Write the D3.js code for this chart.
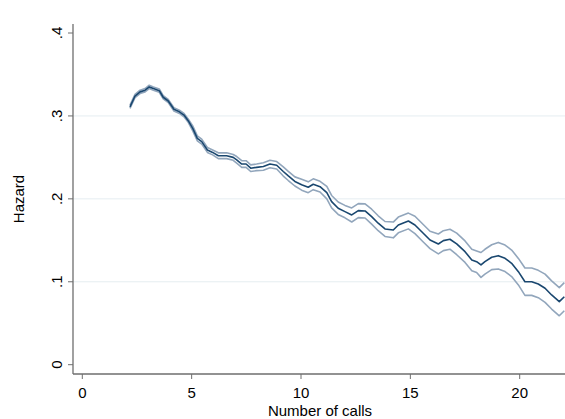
<!DOCTYPE html>
<html>
<head>
<meta charset="utf-8">
<script src="https://cdn.jsdelivr.net/npm/d3@7"></script>
<style>
  body { margin: 0; background: #fff; }
  text { font-family: "Liberation Sans", Arial, sans-serif; }
</style>
</head>
<body>
<svg id="main" width="565" height="419"></svg>
<script>
// values
const calls = [2.18, 2.41, 2.64, 2.87, 3.06, 3.25, 3.52, 3.70, 3.93, 4.19, 4.44, 4.65, 4.85,
    5.05, 5.26, 5.46, 5.72, 5.96, 6.22, 6.60, 6.9, 7.06, 7.29, 7.49, 7.70, 7.97, 8.28, 8.58,
    8.89, 9.19, 9.42, 9.72, 10.03, 10.33, 10.56, 10.87, 11.18, 11.4, 11.7, 12.01, 12.32, 12.62,
    12.93, 13.23, 13.53, 13.84, 14.22, 14.45, 14.91, 15.21, 15.59, 15.9, 16.28, 16.51, 16.81,
    17.12, 17.5, 17.81, 18.03, 18.23, 18.41, 18.72, 19.02, 19.33, 19.63, 19.94, 20.24, 20.55,
    20.85, 21.16, 21.46, 21.81, 22.04];
const hazard = [0.311, 0.324, 0.329, 0.331, 0.335, 0.333, 0.3305, 0.3225, 0.318, 0.308, 0.305,
    0.301, 0.294, 0.285, 0.273, 0.269, 0.259, 0.256, 0.252, 0.252, 0.250, 0.247, 0.242, 0.242,
    0.237, 0.238, 0.239, 0.242, 0.2405, 0.233, 0.2276, 0.221, 0.217, 0.214, 0.2176, 0.2147,
    0.2075, 0.1966, 0.1887, 0.1846, 0.1806, 0.1858, 0.1854, 0.1785, 0.1706, 0.1637, 0.1625,
    0.1685, 0.1733, 0.1685, 0.1585, 0.1504, 0.1456, 0.1496, 0.1513, 0.1456, 0.1363, 0.1263,
    0.1242, 0.1203, 0.1242, 0.1296, 0.1315, 0.1283, 0.1223, 0.1122, 0.1001, 0.1001, 0.0973,
    0.0922, 0.0841, 0.076, 0.082];
// half width of the confidence band at each point
const ciHalf = [0.002, 0.002, 0.002, 0.002, 0.002, 0.002, 0.002, 0.002, 0.002, 0.002, 0.002,
    0.002, 0.002, 0.003, 0.003, 0.003, 0.003, 0.003, 0.0035, 0.0035, 0.0035, 0.004, 0.004,
    0.004, 0.004, 0.004, 0.0045, 0.0045, 0.0045, 0.0055, 0.0055, 0.0055, 0.0065, 0.0065,
    0.0065, 0.0065, 0.0075, 0.0075, 0.0075, 0.0075, 0.0085, 0.0085, 0.0085, 0.009, 0.009,
    0.009, 0.0095, 0.0095, 0.0095, 0.0105, 0.0105, 0.0105, 0.012, 0.012, 0.012, 0.013, 0.013,
    0.013, 0.013, 0.015, 0.015, 0.015, 0.016, 0.016, 0.016, 0.016, 0.0165, 0.0165, 0.0165,
    0.017, 0.017, 0.017, 0.017];
const xTicks = [0, 5, 10, 15, 20];
const yTicks = [0, 0.1, 0.2, 0.3, 0.4];
const yTickLabels = ["0", ".1", ".2", ".3", ".4"];
const xTitle = "Number of calls";
const yTitle = "Hazard";

const size = {width: 565, height: 419, left: 73, right: 565, top: 24, bottom: 374};

const points = calls.map((c, i) => ({x: c, y: hazard[i], lo: hazard[i] - ciHalf[i], hi: hazard[i] + ciHalf[i]}));

const xScale = d3.scaleLinear([0, 1], [82.3, 104.17]);
const yScale = d3.scaleLinear([0, 0.4], [364.7, 33]);

const svg = d3.select("#main");

// plot clip
svg.append("defs").append("clipPath").attr("id", "plotclip")
    .append("rect")
    .attr("x", size.left).attr("y", size.top)
    .attr("width", size.right - size.left).attr("height", size.bottom - size.top);

// gridlines (none at 0 and .4)
svg.append("g")
    .selectAll("line")
    .data(yTicks.filter(d => d > 0 && d < 0.4))
    .join("line")
    .attr("x1", size.left).attr("x2", size.right)
    .attr("y1", d => yScale(d)).attr("y2", d => yScale(d))
    .attr("stroke", "#e6edf1")
    .attr("stroke-width", 1);

const plot = svg.append("g").attr("clip-path", "url(#plotclip)");

const lineOf = key => d3.line().x(d => xScale(d.x)).y(d => yScale(d[key]));

plot.append("path").datum(points)
    .attr("d", lineOf("hi"))
    .attr("fill", "none").attr("stroke", "#92a6bc").attr("stroke-width", 1.6)
    .attr("stroke-linejoin", "round");
plot.append("path").datum(points)
    .attr("d", lineOf("lo"))
    .attr("fill", "none").attr("stroke", "#92a6bc").attr("stroke-width", 1.6)
    .attr("stroke-linejoin", "round");
plot.append("path").datum(points)
    .attr("d", lineOf("y"))
    .attr("fill", "none").attr("stroke", "#1a476f").attr("stroke-width", 1.6)
    .attr("stroke-linejoin", "round");

// y axis
const yAxis = svg.append("g");
yAxis.append("line")
    .attr("x1", size.left).attr("x2", size.left)
    .attr("y1", size.top).attr("y2", size.bottom)
    .attr("stroke", "#6e6e6e").attr("stroke-width", 1.3);
yAxis.selectAll(".tick")
    .data(yTicks)
    .join("line")
    .attr("x1", size.left - 5).attr("x2", size.left)
    .attr("y1", d => yScale(d)).attr("y2", d => yScale(d))
    .attr("stroke", "#6e6e6e").attr("stroke-width", 1);
yAxis.selectAll("text")
    .data(yTicks)
    .join("text")
    .attr("transform", d => `translate(62,${yScale(d)}) rotate(-90)`)
    .attr("text-anchor", "middle")
    .attr("font-size", 15)
    .attr("fill", "#000")
    .text((d, i) => yTickLabels[i]);

// x axis
const xAxis = svg.append("g");
xAxis.append("line")
    .attr("x1", size.left).attr("x2", size.right)
    .attr("y1", size.bottom).attr("y2", size.bottom)
    .attr("stroke", "#6e6e6e").attr("stroke-width", 1.3);
xAxis.selectAll(".tick")
    .data(xTicks)
    .join("line")
    .attr("x1", d => xScale(d)).attr("x2", d => xScale(d))
    .attr("y1", size.bottom).attr("y2", size.bottom + 5)
    .attr("stroke", "#6e6e6e").attr("stroke-width", 1);
xAxis.selectAll("text")
    .data(xTicks)
    .join("text")
    .attr("x", d => xScale(d))
    .attr("y", 397.5)
    .attr("text-anchor", "middle")
    .attr("font-size", 15)
    .attr("fill", "#000")
    .text(d => d);

// titles
svg.append("text")
    .attr("x", (size.left + size.right) / 2 + 1)
    .attr("y", 416)
    .attr("text-anchor", "middle")
    .attr("font-size", 15)
    .text(xTitle);
svg.append("text")
    .attr("transform", `translate(24,${(size.top + size.bottom) / 2}) rotate(-90)`)
    .attr("text-anchor", "middle")
    .attr("font-size", 15)
    .text(yTitle);
</script>
</body>
</html>
